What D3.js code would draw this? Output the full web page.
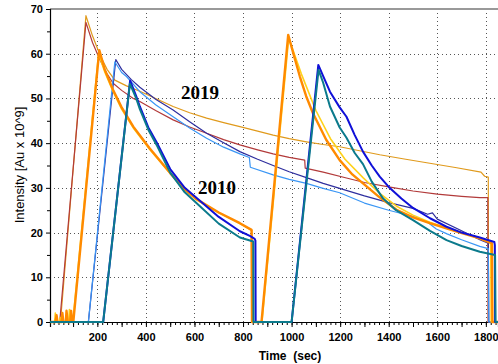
<!DOCTYPE html>
<html>
<head>
<meta charset="utf-8">
<script src="https://cdn.jsdelivr.net/npm/d3@7/dist/d3.min.js"></script>
<style>
  html, body { margin: 0; padding: 0; background: #fff; }
  svg { display: block; }
</style>
</head>
<body>
<svg id="chart" width="498" height="364"></svg>
<script>
// ---- Data: [time (sec), intensity (Au x 10^9)] ----
// 2019 runs (thin lines)
const red2019 = [[5,0],[45,0],[153,67.0],[180,62.5],[211,58.6],[240,55.5],[265,53.4],[300,51.8],[348,50.0],[375,49.3],[440,47.3],[512,45.2],[580,43.6],[650,42.2],[720,40.8],[787,39.6],[860,38.5],[924,37.6],[990,36.8],[1054,36.2],[1056,34.4],[1130,33.5],[1226,32.2],[1300,31.2],[1400,30.2],[1500,29.3],[1600,28.6],[1700,28.1],[1775,27.8],[1808,27.8],[1809,0],[1850,0]];
const gold2019 = [[5,0],[48,0],[153,68.5],[180,64.0],[211,59.7],[240,56.5],[272,54.1],[320,52.8],[375,51.6],[440,50.0],[512,48.2],[580,46.8],[650,45.6],[720,44.6],[787,43.7],[860,42.7],[924,41.8],[990,41.0],[1061,40.3],[1130,39.7],[1198,39.2],[1280,38.3],[1363,37.4],[1470,36.4],[1569,35.5],[1680,34.5],[1780,33.5],[1795,32.6],[1810,32.4],[1811,0],[1850,0]];
const lightBlue2019 = [[5,0],[163,0],[272,58.2],[300,55.8],[320,54.9],[375,51.5],[440,48.6],[512,45.9],[580,43.4],[650,41.1],[720,39.1],[787,37.6],[826,36.8],[830,34.6],[924,32.9],[990,31.9],[1061,31.0],[1130,29.9],[1198,28.9],[1300,26.6],[1400,25.0],[1500,23.6],[1560,22.3],[1596,20.8],[1640,19.7],[1700,18.4],[1775,16.9],[1810,16.4],[1812,0],[1850,0]];
const navy2019 = [[5,0],[163,0],[276,58.7],[300,56.5],[340,54.2],[375,52.5],[440,49.8],[512,47.4],[580,44.8],[650,42.2],[720,40.1],[787,38.1],[860,36.4],[924,35.0],[990,33.6],[1061,32.3],[1130,31.0],[1198,29.9],[1300,28.2],[1400,26.7],[1500,25.4],[1560,24.1],[1580,24.4],[1600,23.0],[1700,20.4],[1775,18.4],[1810,17.6],[1812,0],[1850,0]];

// 2010 runs (thick lines)
const yellow2010 = [[5,0],[24,0],[27,2.0],[30,0],[44,0],[47,1.0],[50,0],[82,0],[85,2.8],[89,0],[99,0],[205,60.0],[230,56.0],[265,51.5],[300,47.6],[348,43.4],[416,38.6],[500,33.2],[608,27.3],[700,24.4],[787,22.0],[836,20.5],[838,0],[878,0],[988,63.5],[1040,55.5],[1100,47.3],[1160,41.0],[1220,36.4],[1294,32.3],[1360,28.9],[1432,25.9],[1500,23.9],[1569,22.3],[1680,20.3],[1775,18.8],[1820,17.8],[1822,0],[1850,0]];
const orange2010 = [[5,0],[28,0],[32,1.5],[36,0],[52,0],[56,2.0],[60,0],[70,0],[73,2.5],[78,0],[88,0],[92,2.5],[96,0],[101,0],[208,60.8],[230,56.5],[265,51.9],[300,48.0],[348,43.7],[416,38.8],[500,33.3],[560,29.6],[608,27.5],[700,24.5],[787,22.1],[835,20.6],[837,0],[876,0],[986,64.2],[1010,59.5],[1034,54.9],[1060,50.5],[1088,46.7],[1143,40.7],[1198,36.2],[1250,33.0],[1294,31.0],[1360,28.0],[1432,25.1],[1500,23.4],[1569,22.1],[1680,20.2],[1775,18.7],[1825,17.6],[1827,0],[1850,0]];
const teal2010 = [[5,0],[224,0],[334,53.3],[360,50.0],[375,47.6],[410,43.0],[444,39.6],[500,33.4],[560,29.0],[608,26.6],[700,22.0],[787,18.9],[842,18.0],[843,0],[1000,0],[1111,56.4],[1130,53.5],[1158,48.2],[1198,43.5],[1226,41.2],[1260,37.8],[1294,35.3],[1330,31.4],[1377,27.6],[1430,25.0],[1500,22.8],[1570,20.4],[1638,18.3],[1700,17.0],[1775,15.7],[1838,15.0],[1840,0],[1850,0]];
const blue2010 = [[5,0],[224,0],[335,54.0],[360,50.5],[375,48.2],[410,43.5],[444,40.2],[500,34.2],[560,30.0],[608,27.8],[700,23.5],[787,20.3],[830,19.2],[848,18.6],[851,18.2],[852,0],[1000,0],[1110,57.5],[1130,55.0],[1158,51.5],[1198,48.0],[1226,45.9],[1260,41.8],[1294,38.1],[1330,35.0],[1363,32.5],[1400,30.2],[1452,27.6],[1500,25.5],[1570,23.2],[1638,21.3],[1700,20.0],[1775,18.9],[1835,17.9],[1837,17.2],[1838,0],[1850,0]];

// Axis ticks
const xTickLabels = [200, 400, 600, 800, 1000, 1200, 1400, 1600, 1800];
const yTickLabels = [0, 10, 20, 30, 40, 50, 60, 70];

// Series styling, in drawing order (later ones sit on top)
const series = [
  { data: gold2019,      color: "#e09a1c", width: 1.2 },
  { data: red2019,       color: "#b23a3a", width: 1.2 },
  { data: navy2019,      color: "#2e2e9e", width: 1.2 },
  { data: lightBlue2019, color: "#3a96f5", width: 1.2 },
  { data: yellow2010,    color: "#ffd21a", width: 1.6 },
  { data: orange2010,    color: "#ff8a00", width: 2.4 },
  { data: blue2010,      color: "#1010d8", width: 2.0 },
  { data: teal2010,      color: "#0b7a8c", width: 2.0 }
];

const svg = d3.select("#chart");
const plotLeft = 50, plotRight = 498, plotTop = 9, plotBottom = 322;

const x = d3.scaleLinear().domain([5, 1850]).range([plotLeft, plotRight]);
const y = d3.scaleLinear().domain([0, 70]).range([plotBottom, plotTop]);

// Dotted grid
const grid = svg.append("g").attr("stroke", "#555").attr("stroke-width", 1)
  .attr("stroke-dasharray", "1,3");
grid.selectAll("line.v").data(xTickLabels).join("line").attr("class", "v")
  .attr("x1", d => Math.round(x(d)) + 0.5).attr("x2", d => Math.round(x(d)) + 0.5)
  .attr("y1", plotTop).attr("y2", plotBottom);
grid.selectAll("line.h").data(yTickLabels.filter(d => d > 0 && d < 70)).join("line").attr("class", "h")
  .attr("x1", plotLeft).attr("x2", plotRight)
  .attr("y1", d => Math.round(y(d)) + 0.5).attr("y2", d => Math.round(y(d)) + 0.5);

// Top frame line
svg.append("line").attr("x1", plotLeft).attr("x2", plotRight).attr("y1", plotTop).attr("y2", plotTop)
  .attr("stroke", "#999").attr("stroke-width", 2);

// Y axis: labelled ticks every 10, minor every 5
svg.append("g").attr("transform", `translate(${plotLeft},0)`)
  .call(d3.axisLeft(y).tickValues(yTickLabels).tickSize(4).tickPadding(3).tickFormat(d3.format("d")));
svg.append("g").attr("transform", `translate(${plotLeft},0)`)
  .call(d3.axisLeft(y).tickValues(d3.range(5, 70, 10)).tickSize(3).tickFormat(""))
  .select(".domain").remove();

// X axis: labels every 200, ticks every 100, minor every 20
svg.append("g").attr("transform", `translate(0,${plotBottom})`)
  .call(d3.axisBottom(x).tickValues(xTickLabels).tickSize(5).tickPadding(6).tickFormat(d3.format("d")));
svg.append("g").attr("transform", `translate(0,${plotBottom})`)
  .call(d3.axisBottom(x).tickValues(d3.range(100, 1850, 200)).tickSize(5).tickFormat(""))
  .select(".domain").remove();
svg.append("g").attr("transform", `translate(0,${plotBottom})`)
  .call(d3.axisBottom(x).tickValues(d3.range(20, 1850, 20)).tickSize(3).tickFormat(""))
  .select(".domain").remove();

svg.selectAll(".tick text")
  .attr("font-family", "'Liberation Sans', Arial, sans-serif")
  .attr("font-size", 11).attr("font-weight", "bold").attr("fill", "#000");
svg.selectAll(".domain").attr("stroke", "#000").attr("stroke-width", 1.2);
svg.selectAll(".tick line").attr("stroke", "#000");

// Data lines
const clipId = "plotClip";
svg.append("clipPath").attr("id", clipId).append("rect")
  .attr("x", plotLeft).attr("y", plotTop).attr("width", plotRight - plotLeft).attr("height", plotBottom - plotTop + 3);

const line = d3.line().x(d => x(d[0])).y(d => y(d[1]));
svg.append("g").attr("clip-path", `url(#${clipId})`)
  .selectAll("path").data(series).join("path")
  .attr("d", d => line(d.data))
  .attr("fill", "none")
  .attr("stroke", d => d.color)
  .attr("stroke-width", d => d.width)
  .attr("stroke-linejoin", "round");

// Year annotations
svg.append("text").attr("x", x(545)).attr("y", y(49.8))
  .attr("font-family", "'Liberation Serif', 'Times New Roman', serif")
  .attr("font-size", 19).attr("font-weight", "bold").text("2019");
svg.append("text").attr("x", x(615)).attr("y", y(28.6))
  .attr("font-family", "'Liberation Serif', 'Times New Roman', serif")
  .attr("font-size", 19).attr("font-weight", "bold").text("2010");

// Axis titles
svg.append("text").attr("x", 290).attr("y", 360).attr("text-anchor", "middle")
  .attr("font-family", "'Liberation Sans', Arial, sans-serif")
  .attr("font-size", 12).attr("font-weight", "bold")
  .style("white-space", "pre").text("Time  (sec)");
svg.append("text")
  .attr("transform", "translate(24,165) rotate(-90)")
  .attr("text-anchor", "middle")
  .attr("font-family", "'Liberation Sans', Arial, sans-serif")
  .attr("font-size", 13).text("Intensity [Au x 10^9]");
</script>
</body>
</html>
